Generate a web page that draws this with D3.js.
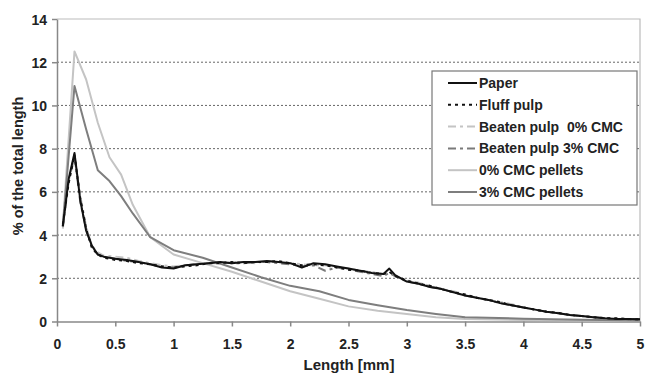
<!DOCTYPE html>
<html><head><meta charset="utf-8">
<script src="https://cdn.jsdelivr.net/npm/d3@7"></script>
<style>body{margin:0;background:#fff}svg{display:block}text{font-family:"Liberation Sans",Arial,sans-serif;font-weight:bold;fill:#222}</style>
</head><body><svg id="c" width="645" height="375"></svg>
<script>
const pulpLengths = [0.05,0.1,0.15,0.2,0.25,0.3,0.35,0.4,0.5,0.6,0.7,0.8,0.9,1.0,1.1,1.2,1.3,1.4,1.5,1.6,1.7,1.8,1.9,2.0,2.1,2.2,2.3,2.4,2.5,2.6,2.7,2.8,2.85,2.9,3.0,3.1,3.2,3.3,3.4,3.5,3.6,3.7,3.8,3.9,4.0,4.1,4.2,4.3,4.4,4.5,4.6,4.7,4.8,4.9,5.0];
const paper     = [4.4,6.6,7.8,5.6,4.2,3.5,3.1,3.0,2.9,2.85,2.75,2.65,2.5,2.45,2.6,2.65,2.7,2.75,2.7,2.75,2.75,2.8,2.75,2.7,2.5,2.7,2.65,2.55,2.45,2.35,2.25,2.2,2.45,2.15,1.85,1.75,1.6,1.5,1.35,1.2,1.1,1.0,0.85,0.75,0.65,0.55,0.45,0.38,0.3,0.25,0.2,0.15,0.12,0.12,0.1];
const fluffPulp = [4.5,6.4,7.7,5.7,4.3,3.4,3.1,2.95,2.85,2.8,2.7,2.65,2.55,2.5,2.55,2.6,2.7,2.7,2.75,2.7,2.75,2.75,2.8,2.7,2.6,2.65,2.6,2.5,2.4,2.35,2.25,2.2,2.3,2.1,1.9,1.75,1.65,1.5,1.35,1.25,1.1,1.0,0.9,0.75,0.65,0.55,0.45,0.4,0.3,0.25,0.2,0.15,0.15,0.12,0.1];
const beaten0   = [4.3,6.5,7.6,5.8,4.4,3.5,3.2,3.05,3.0,2.95,2.8,2.7,2.6,2.55,2.6,2.65,2.7,2.7,2.75,2.75,2.7,2.8,2.75,2.7,2.65,2.6,2.6,2.5,2.45,2.35,2.3,2.2,2.3,2.1,1.9,1.8,1.65,1.5,1.4,1.25,1.1,1.0,0.9,0.8,0.65,0.55,0.45,0.4,0.3,0.25,0.2,0.15,0.12,0.1,0.1];
const beaten3   = [4.4,6.5,7.7,5.5,4.3,3.4,3.1,3.0,2.9,2.8,2.75,2.65,2.55,2.5,2.6,2.65,2.7,2.75,2.7,2.7,2.75,2.75,2.7,2.65,2.55,2.6,2.35,2.5,2.4,2.3,2.2,2.1,2.25,2.1,1.85,1.75,1.6,1.5,1.35,1.2,1.1,1.0,0.85,0.75,0.65,0.55,0.45,0.38,0.3,0.25,0.2,0.15,0.12,0.1,0.1];
const pelletLengths = [0.05,0.15,0.25,0.35,0.45,0.55,0.65,0.8,1.0,1.25,1.5,1.75,2.0,2.25,2.5,2.75,3.0,3.25,3.5,4.0,4.5,5.0];
const pellets0 = [4.4,12.5,11.2,9.2,7.6,6.8,5.4,3.9,3.1,2.7,2.3,1.85,1.4,1.05,0.7,0.5,0.35,0.2,0.12,0.07,0.05,0.03];
const pellets3 = [4.4,10.9,8.9,7.0,6.5,5.8,5.0,3.9,3.3,2.95,2.5,2.05,1.65,1.4,1.0,0.75,0.53,0.35,0.2,0.13,0.08,0.05];
const seriesNames = ["Paper","Fluff pulp","Beaten pulp  0% CMC","Beaten pulp 3% CMC","0% CMC pellets","3% CMC pellets"];
const xTicks = [0,0.5,1,1.5,2,2.5,3,3.5,4,4.5,5];
const yTicks = [0,2,4,6,8,10,12,14];

const styles = [
  {color:"#111", width:2, dash:null},
  {color:"#111", width:2, dash:"3,4"},
  {color:"#c4c4c4", width:2, dash:"8,4,3,4"},
  {color:"#7a7a7a", width:2, dash:"8,4,3,4"},
  {color:"#c4c4c4", width:2, dash:null},
  {color:"#7e7e7e", width:2, dash:null}
];
const seriesData = [
  pulpLengths.map((l,i)=>[l,paper[i]]),
  pulpLengths.map((l,i)=>[l,fluffPulp[i]]),
  pulpLengths.map((l,i)=>[l,beaten0[i]]),
  pulpLengths.map((l,i)=>[l,beaten3[i]]),
  pelletLengths.map((l,i)=>[l,pellets0[i]]),
  pelletLengths.map((l,i)=>[l,pellets3[i]])
];

const svg = d3.select("#c");
const x = d3.scaleLinear().domain([0,5]).range([57,640]);
const y = d3.scaleLinear().domain([0,14]).range([321.5,19]);

svg.append("g").selectAll("line").data(yTicks.filter(t=>t>0&&t<14)).join("line")
  .attr("x1",57).attr("x2",640).attr("y1",d=>y(d)).attr("y2",d=>y(d))
  .attr("stroke","#666").attr("stroke-width",1).attr("stroke-dasharray","2,2");
svg.append("path").attr("d",`M57,${y(14)}H640V${y(0)}`).attr("fill","none").attr("stroke","#bbb").attr("stroke-width",1.2);

const xAxis = svg.append("g").attr("transform",`translate(0,${y(0)})`)
  .call(d3.axisBottom(x).tickValues(xTicks).tickFormat(d3.format("~g")).tickSize(5).tickSizeOuter(0));
const yAxis = svg.append("g").attr("transform",`translate(57,0)`)
  .call(d3.axisLeft(y).tickValues(yTicks).tickSize(5).tickSizeOuter(0));
[xAxis,yAxis].forEach(a=>{
  a.select(".domain").attr("stroke","#888").attr("stroke-width",1.5);
  a.selectAll(".tick line").attr("stroke","#888").attr("stroke-width",1.5);
  a.selectAll("text").style("font-size","14px").style("font-weight","bold").attr("fill","#222");
});
xAxis.selectAll("text").attr("dy","0").attr("y",27);
yAxis.selectAll("text").attr("x",-10).attr("dy","0.36em");

const line = d3.line().x(d=>x(d[0])).y(d=>y(d[1]));
const order = [4,5,2,3,1,0];
order.forEach(i=>{
  svg.append("path").datum(seriesData[i]).attr("d",line).attr("fill","none")
    .attr("stroke",styles[i].color).attr("stroke-width",styles[i].width)
    .attr("stroke-dasharray",styles[i].dash).attr("stroke-linejoin","round");
});

const lg = svg.append("g");
lg.append("rect").attr("x",432).attr("y",71).attr("width",205).attr("height",134)
  .attr("fill","#fff").attr("stroke","#777").attr("stroke-width",1.2);
seriesNames.forEach((n,i)=>{
  const yy = 83 + i*21.8;
  lg.append("line").attr("x1",448).attr("x2",477).attr("y1",yy).attr("y2",yy)
    .attr("stroke",styles[i].color).attr("stroke-width",2).attr("stroke-dasharray",styles[i].dash);
  lg.append("text").attr("x",479).attr("y",yy+5).attr("xml:space","preserve").style("white-space","pre")
    .style("font-size","14px").text(n);
});

svg.append("text").attr("x",349).attr("y",370).attr("text-anchor","middle").style("font-size","15px").text("Length [mm]");
svg.append("text").attr("transform","translate(23,166) rotate(-90)").attr("text-anchor","middle").style("font-size","14.5px").text("% of the total length");
</script></body></html>
